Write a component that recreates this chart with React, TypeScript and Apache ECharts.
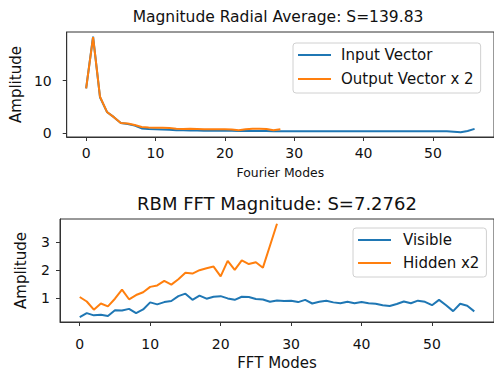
import React, { useEffect, useRef } from "react";
import * as echarts from "echarts";

const topTitle = "Magnitude Radial Average: S=139.83";
const bottomTitle = "RBM FFT Magnitude: S=7.2762";
const xTicks = [0, 10, 20, 30, 40, 50];
const topYTicks = [0, 10];
const bottomYTicks = [1, 2, 3];

const inputVector = [
  8.5, 18.4, 6.8, 4.0, 3.0, 1.9, 1.7, 1.4, 0.85, 0.75, 0.7, 0.65, 0.6, 0.5, 0.5,
  0.45, 0.45, 0.4, 0.4, 0.4, 0.4, 0.4, 0.35, 0.35, 0.35, 0.35, 0.35, 0.3, 0.3,
  0.3, 0.3, 0.3, 0.3, 0.3, 0.3, 0.3, 0.3, 0.3, 0.3, 0.3, 0.3, 0.3, 0.3, 0.3,
  0.3, 0.3, 0.3, 0.3, 0.3, 0.3, 0.3, 0.3, 0.3, 0.2, 0.1, 0.35, 0.75,
];
const outputVectorX2 = [
  8.5, 18.3, 6.9, 4.0, 3.0, 1.9, 1.8, 1.5, 1.1, 1.0, 0.95, 0.95, 0.9, 0.8,
  0.75, 0.8, 0.75, 0.7, 0.7, 0.7, 0.7, 0.65, 0.5, 0.7, 0.8, 0.8, 0.75, 0.5, 0.7,
];
const visible = [
  0.34, 0.48, 0.4, 0.42, 0.38, 0.58, 0.57, 0.63, 0.48, 0.61, 0.86, 0.79, 0.87,
  0.91, 1.08, 1.17, 0.95, 1.1, 0.99, 1.06, 1.08, 1.0, 0.95, 1.06, 1.05, 0.98,
  0.96, 0.88, 0.93, 0.91, 0.92, 0.87, 0.95, 0.82, 0.88, 0.92, 0.86, 0.83, 0.88,
  0.83, 0.87, 0.83, 0.81, 0.76, 0.73, 0.8, 0.89, 0.83, 0.92, 0.88, 0.76, 0.95,
  0.76, 0.55, 0.81, 0.74, 0.54,
];
const hiddenX2 = [
  1.05, 0.89, 0.6, 0.82, 0.72, 0.99, 1.31, 0.97, 1.12, 1.22, 1.41, 1.46, 1.62,
  1.49, 1.68, 1.91, 1.88, 2.0, 2.07, 2.13, 1.78, 2.33, 2.01, 2.35, 2.22, 2.28,
  2.09, 2.87, 3.65,
];

const FONT = "DejaVu Sans";
const TXT = "#111";
const AX = "#333";
const BLUE = "#1f77b4";
const ORANGE = "#ff7f0e";

const toPts = (arr: number[]) => arr.map((v, i) => [i, v]);

export default function App() {
  const ref = useRef<HTMLDivElement>(null);
  useEffect(() => {
    if (!ref.current) return;
    const chart = echarts.init(ref.current, undefined, { renderer: "svg" });
    const xAxisBase = (gridIndex: number, name: string, nameSize: number, nameGap: number, labelMargin: number) => ({
      type: "value",
      gridIndex,
      min: -2.8,
      max: 58.8,
      name,
      nameLocation: "middle",
      nameGap,
      nameTextStyle: { fontFamily: FONT, fontSize: nameSize, color: TXT, verticalAlign: "top" },
      axisLine: { show: true, onZero: false, lineStyle: { color: AX, width: 1 } },
      axisTick: { show: true, customValues: xTicks, length: 4, lineStyle: { color: AX } },
      axisLabel: { customValues: xTicks, fontFamily: FONT, fontSize: 14, color: TXT, margin: labelMargin },
      splitLine: { show: false },
    });
    const yAxisBase = (gridIndex: number, min: number, max: number, ticks: number[], nameGap: number, labelMargin: number) => ({
      type: "value",
      gridIndex,
      min,
      max,
      name: "Amplitude",
      nameLocation: "middle",
      nameRotate: 90,
      nameGap,
      nameTextStyle: { fontFamily: FONT, fontSize: 15, color: TXT },
      axisLine: { show: true, onZero: false, lineStyle: { color: AX, width: 1 } },
      axisTick: { show: true, customValues: ticks, length: 4, lineStyle: { color: AX } },
      axisLabel: { customValues: ticks, fontFamily: FONT, fontSize: 14, color: TXT, margin: labelMargin },
      splitLine: { show: false },
    });
    const legendBase = (data: string[], left: number, top: number, gap: number, textPad: number) => ({
      data,
      orient: "vertical",
      left,
      top,
      icon: "rect",
      itemWidth: 33,
      itemHeight: 2,
      itemGap: gap,
      padding: [3, 7, 5, 5],
      borderColor: "#d0d0d0",
      borderWidth: 1,
      borderRadius: 3,
      backgroundColor: "rgba(255,255,255,0.8)",
      textStyle: { fontFamily: FONT, fontSize: 15, color: TXT, lineHeight: 18, padding: [0, 0, 0, textPad] },
    });
    chart.setOption({
      animation: false,
      backgroundColor: "#fff",
      grid: [
        { left: 63, top: 32, width: 436, height: 105, show: true, borderColor: AX, borderWidth: 1, backgroundColor: "transparent" },
        { left: 60, top: 219, width: 437, height: 107, show: true, borderColor: AX, borderWidth: 1, backgroundColor: "transparent" },
      ],
      xAxis: [
        xAxisBase(0, "Fourier Modes", 12.4, 29, 9),
        xAxisBase(1, "FFT Modes", 15, 33, 15),
      ],
      yAxis: [
        yAxisBase(0, -0.8, 19.3, topYTicks, 40, 15),
        yAxisBase(1, 0.164, 3.816, bottomYTicks, 32, 10),
      ],
      legend: [
        legendBase(["Input Vector", "Output Vector x 2"], 293, 43, 6, 5),
        legendBase(["Visible", "Hidden x2"], 353, 228, 5, 7),
      ],
      graphic: [
        { type: "text", x: 278, y: 17, style: { text: topTitle, font: `15.5px "${FONT}"`, fill: TXT, textAlign: "center", textVerticalAlign: "middle" } },
        { type: "text", x: 277, y: 203, style: { text: bottomTitle, font: `18px "${FONT}"`, fill: TXT, textAlign: "center", textVerticalAlign: "middle" } },
      ],
      series: [
        { name: "Input Vector", type: "line", xAxisIndex: 0, yAxisIndex: 0, data: toPts(inputVector), showSymbol: false, symbol: "none", lineStyle: { color: BLUE, width: 2 }, itemStyle: { color: BLUE } },
        { name: "Output Vector x 2", type: "line", xAxisIndex: 0, yAxisIndex: 0, data: toPts(outputVectorX2), showSymbol: false, symbol: "none", lineStyle: { color: ORANGE, width: 2 }, itemStyle: { color: ORANGE } },
        { name: "Visible", type: "line", xAxisIndex: 1, yAxisIndex: 1, data: toPts(visible), showSymbol: false, symbol: "none", lineStyle: { color: BLUE, width: 2 }, itemStyle: { color: BLUE } },
        { name: "Hidden x2", type: "line", xAxisIndex: 1, yAxisIndex: 1, data: toPts(hiddenX2), showSymbol: false, symbol: "none", lineStyle: { color: ORANGE, width: 2 }, itemStyle: { color: ORANGE } },
      ],
    });
    return () => chart.dispose();
  }, []);
  return <div ref={ref} style={{ position: "fixed", left: 0, top: 0, width: 494, height: 371 }} />;
}
